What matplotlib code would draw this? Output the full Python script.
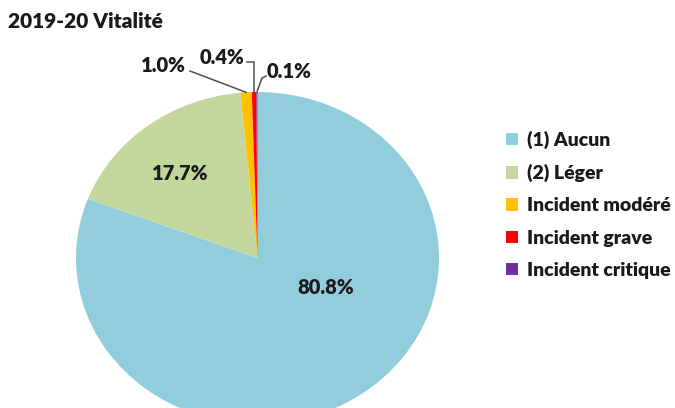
import numpy as np
import matplotlib
matplotlib.use("Agg")
import matplotlib.pyplot as plt
from matplotlib.patches import Patch

title = "2019-20 Vitalité"
categories = ["(1) Aucun", "(2) Léger", "Incident modéré", "Incident grave", "Incident critique"]
values = [80.8, 17.7, 1.0, 0.4, 0.1]
colors = ["#92CDDC", "#C3D69B", "#FFC000", "#FF0000", "#7030A0"]
pct_labels = ["80.8%", "17.7%", "1.0%", "0.4%", "0.1%"]

plt.rcParams['font.family'] = ['Lato', 'DejaVu Sans']

W, H = 675, 408
fig = plt.figure(figsize=(W / 100, H / 100), dpi=100)
ax = fig.add_axes([0, 0, 1, 1])

# pixel geometry of the (slightly elliptical) pie
cx, cy, a, b = 257.5, 258.0, 181.5, 166.0

def px(x, y):
    return (x - cx) / a, (cy - y) / b

wedges, _ = ax.pie(values, colors=colors, startangle=90, counterclock=False,
                   radius=1.0, wedgeprops=dict(linewidth=0))
ax.set_aspect('auto')
ax.set_xlim(-cx / a, (W - cx) / a)
ax.set_ylim((cy - H) / b, cy / b)
ax.axis('off')

FS = 14.5
WT = 'heavy'
# inside labels
lab_pos = [(326, 288), (180, 173), (163, 65), (222, 57), (289, 72)]
for lbl, (x, y) in zip(pct_labels, lab_pos):
    ax.text(*px(x, y), lbl, ha='center', va='center', fontsize=FS,
            fontweight=WT, color='#1a1a1a')

# leader lines for small slices
def edge_point(w):
    th = np.deg2rad((w.theta1 + w.theta2) / 2)
    return np.cos(th), np.sin(th)

lc = '#505050'
# 1.0%
ex, ey = edge_point(wedges[2])
x0, y0 = px(190, 71)
ax.plot([x0, ex], [y0, ey], color=lc, lw=1.1)
# 0.4%
ex, ey = edge_point(wedges[3])
x0, y0 = px(247, 62)
ax.plot([x0, ex, ex], [y0, y0, ey], color=lc, lw=1.1)
# 0.1%
ex, ey = edge_point(wedges[4])
x0, y0 = px(266, 76)
x1, y1 = px(262, 78)
ax.plot([x0, x1, ex], [y0, y1, ey], color=lc, lw=1.1)

fig.text(8 / W, 1 - 22 / H, title, ha='left', va='center', fontsize=15,
         fontweight=WT, color='#1a1a1a')

handles = [Patch(facecolor=c, edgecolor='none') for c in colors]
leg = fig.legend(handles, categories, loc='upper left',
                 bbox_to_anchor=(496 / W, 1 - 121 / H), frameon=False,
                 handlelength=0.62, handleheight=0.62, handletextpad=0.45,
                 labelspacing=0.78, borderpad=0,
                 prop=dict(size=14, weight=WT))
for t in leg.get_texts():
    t.set_color('#1a1a1a')

fig.savefig('out.png', dpi=100)
